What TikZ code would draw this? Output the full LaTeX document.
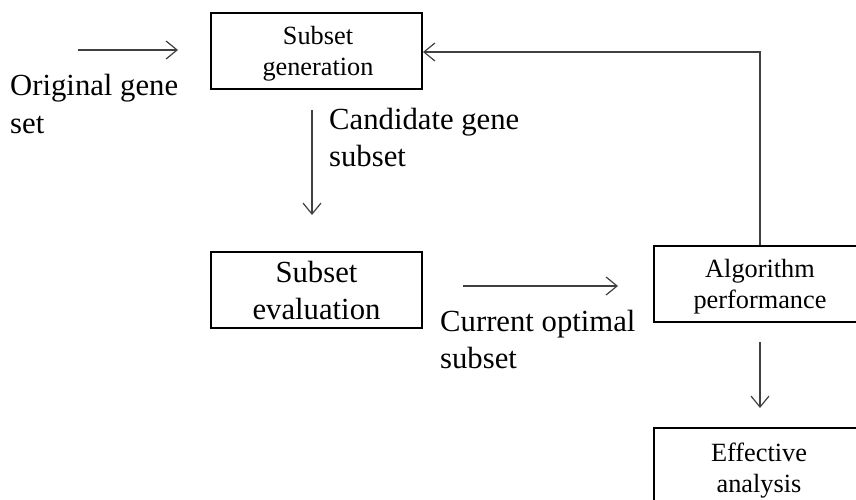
\documentclass[tikz,border=0pt]{standalone}
\usepackage{fontspec}
\setmainfont{Liberation Serif}
\usetikzlibrary{arrows.meta}
\begin{document}
\begin{tikzpicture}[x=1pt,y=-1pt,
  box/.style={draw=black, line width=2pt, inner sep=0pt, align=center},
  smalltxt/.style={font=\fontsize{26.3}{31}\selectfont},
  bigtxt/.style={font=\fontsize{30.7}{37}\selectfont},
  lbl/.style={bigtxt, align=left, inner sep=0pt, anchor=west},
  conn/.style={draw=black!75, line width=1.2pt, -{Straight Barb[length=11pt,width=18pt,line width=1.2pt]}}]
\useasboundingbox (0,0) rectangle (856,500);
% boxes
\node[box, minimum width=211pt, minimum height=76pt] (gen) at (316.5,51) {};
\node[smalltxt, align=center, inner sep=0pt] (gent) at (318,54) {Subset\\generation};
\node[box, bigtxt, minimum width=211pt, minimum height=76pt] (eval) at (316.5,290) {Subset\\evaluation};
\node[box, minimum width=205pt, minimum height=76pt] (alg) at (756.5,284) {};
\node[smalltxt, align=center, inner sep=0pt] (algt) at (760,287) {Algorithm\\performance};
\node[box, minimum width=205pt, minimum height=76pt] (eff) at (756.5,466) {};
\node[smalltxt, align=center, inner sep=0pt] (efft) at (759,471) {Effective\\analysis};
% labels
\node[lbl] (lorig) at (10,104) {Original gene\\set};
\node[lbl] (lcand) at (329,137) {Candidate gene\\subset};
\node[lbl] (lcur) at (440,339) {Current optimal\\subset};
% coordinates
\coordinate (o1) at (78,50);
\coordinate (o2) at (178,50);
\coordinate (c1) at (312,110);
\coordinate (c2) at (312,215);
\coordinate (e1) at (463,286);
\coordinate (e2) at (618,286);
\coordinate (fbx) at (760,0);
\coordinate (fby) at (0,52);
\coordinate (d1) at (760,342);
\coordinate (d2) at (760,408);
% connectors
\draw[conn] (o1) -- (o2);
\draw[conn] (c1) -- (c2);
\draw[conn] (e1) -- (e2);
\draw[conn] (alg.north -| fbx) |- (gen.east |- fby);
\draw[conn] (d1) -- (d2);
\end{tikzpicture}
\end{document}
